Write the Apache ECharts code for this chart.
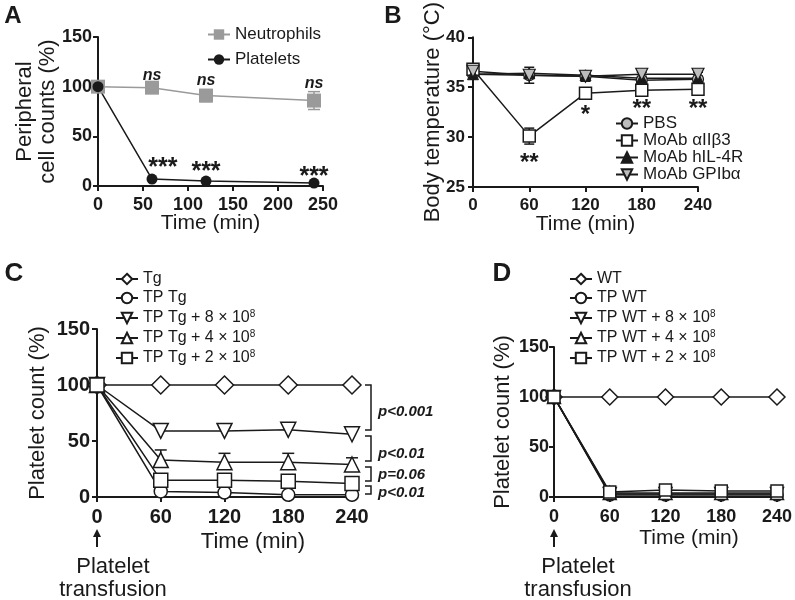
<!DOCTYPE html>
<html><head><meta charset="utf-8">
<script src="https://cdn.jsdelivr.net/npm/echarts@6/dist/echarts.min.js"></script>
<style>html,body{margin:0;padding:0;background:#fff}#c{width:795px;height:600px}</style>
</head><body><div id="c"></div><script>
// ---------- DATA ----------
const A_time = [0, 60, 120, 240];
const A_neutrophils = [100, 99, 91, 86];
const A_neutrophilsErr = [0, 2, 6, 9];
const A_platelets = [100, 7, 5, 3];
const A_nsTime = [60, 120, 240];
const A_nsY = [111, 106, 103];
const A_starTime = [72, 120, 240];
const A_starY = [18, 14, 9];

const B_time = [0, 60, 120, 180, 240];
const B_pbs = [36.3, 36.2, 36.1, 35.7, 35.8];
const B_a2b3 = [36.8, 30.1, 34.4, 34.7, 34.8];
const B_a2b3Err = [0.2, 0.8, 0.3, 0.3, 0.3];
const B_il4r = [36.3, 36.4, 36.2, 35.9, 35.9];
const B_gpib = [36.6, 36.2, 36.1, 36.3, 36.3];
const B_gpibErr = [0, 0.8, 0.5, 0.2, 0.2];
const B_starTime = [60, 120, 180, 240];
const B_starText = ['**', '*', '**', '**'];
const B_starY = [27.4, 32.2, 32.8, 32.8];

const C_time = [0, 60, 120, 180, 240];
const C_tg = [100, 100, 100, 100, 100];
const C_tp = [100, 5, 4, 2, 2];
const C_8 = [100, 59, 59, 60, 56];
const C_8err = [0, 4, 3, 4, 0];
const C_4 = [100, 33, 31, 31, 29];
const C_4err = [0, 9, 8, 8, 6];
const C_2 = [100, 15, 15, 14, 12];
const C_bracketTop = [100, 54.5, 26.8, 9.8];
const C_bracketBot = [59.8, 32.1, 14.3, 2.7];
const C_pText = ['p<0.001', 'p<0.01', 'p=0.06', 'p<0.01'];
const C_pY = [76, 38.4, 19.6, 3.6];

const D_time = [0, 60, 120, 180, 240];
const D_wt = [100, 100, 100, 100, 100];
const D_tp = [100, 2, 2, 2, 2];
const D_8 = [100, 3, 3, 3, 3];
const D_4 = [100, 4, 4, 4, 4];
const D_2 = [100, 5, 7, 6, 6];

const A_names = ['Neutrophils', 'Platelets'];
const B_names = ['PBS', 'MoAb \u03b1II\u03b23', 'MoAb hIL-4R', 'MoAb GPIb\u03b1'];
const C_names = ['Tg', 'TP Tg', 'TP Tg + 8 \u00d7 10^8', 'TP Tg + 4 \u00d7 10^8', 'TP Tg + 2 \u00d7 10^8'];
const D_names = ['WT', 'TP WT', 'TP WT + 8 \u00d7 10^8', 'TP WT + 4 \u00d7 10^8', 'TP WT + 2 \u00d7 10^8'];

// ---------- CHART ----------
const FONT = 'Liberation Sans, Arial, sans-serif';
const INK = '#1a1a1a';
const chart = echarts.init(document.getElementById('c'), null, {renderer: 'canvas'});

function pairs(t, v) { return t.map((x, i) => [x, v[i]]); }

function axisCommon(extra, labelSize, margin, nameSize) {
  return Object.assign({
    nameMoveOverlap: false,
    axisLine: {show: true, onZero: false, lineStyle: {color: INK, width: 2}},
    axisTick: {show: true, length: 5, inside: false, lineStyle: {color: INK, width: 2}},
    axisLabel: {color: INK, fontSize: labelSize, fontWeight: 'bold', fontFamily: FONT, margin: margin},
    splitLine: {show: false},
    nameTextStyle: {color: INK, fontSize: nameSize || 22, fontFamily: FONT, lineHeight: 23}
  }, extra);
}

function lineSeries(name, xi, t, v, opt) {
  return Object.assign({
    type: 'line', name: name, xAxisIndex: xi, yAxisIndex: xi, data: pairs(t, v),
    symbol: 'circle', symbolSize: 12, clip: false, z: 3,
    lineStyle: {color: INK, width: 1.5},
    itemStyle: {color: '#fff', borderColor: INK, borderWidth: 1.5},
    emphasis: {disabled: true}, animation: false
  }, opt);
}

function errSeries(xi, t, v, lo, hi, color, capW) {
  const data = [];
  t.forEach((x, i) => { if ((lo[i] || 0) > 0 || (hi[i] || 0) > 0) data.push([x, v[i], lo[i] || 0, hi[i] || 0]); });
  return {
    type: 'custom', xAxisIndex: xi, yAxisIndex: xi, z: 2, silent: true, animation: false, clip: false,
    encode: {x: 0, y: 1},
    renderItem: function (params, api) {
      const x = api.value(0), y = api.value(1), l = api.value(2), h = api.value(3);
      const top = api.coord([x, y + h]), bot = api.coord([x, y - l]);
      const st = {stroke: color, lineWidth: 1.5};
      const ch = [{type: 'line', shape: {x1: top[0], y1: top[1], x2: bot[0], y2: bot[1]}, style: st}];
      if (h > 0) ch.push({type: 'line', shape: {x1: top[0] - capW / 2, y1: top[1], x2: top[0] + capW / 2, y2: top[1]}, style: st});
      if (l > 0) ch.push({type: 'line', shape: {x1: bot[0] - capW / 2, y1: bot[1], x2: bot[0] + capW / 2, y2: bot[1]}, style: st});
      return {type: 'group', children: ch};
    },
    data: data
  };
}

function textSeries(xi, t, y, texts, font) {
  return {
    type: 'custom', xAxisIndex: xi, yAxisIndex: xi, z: 5, silent: true, animation: false, clip: false,
    encode: {x: 0, y: 1},
    data: t.map((x, i) => [x, y[i], i]),
    renderItem: function (params, api) {
      const p = api.coord([api.value(0), api.value(1)]);
      return {type: 'text', x: p[0], y: p[1], style: {text: texts[api.value(2)], font: font, fill: INK,
        textAlign: 'center', textVerticalAlign: 'middle'}};
    }
  };
}

const bracketSeries = {
  type: 'custom', xAxisIndex: 2, yAxisIndex: 2, z: 4, silent: true, animation: false, clip: false,
  encode: {y: 0},
  data: C_bracketTop.map((v, i) => [v, C_bracketBot[i], C_pY[i], i]),
  renderItem: function (params, api) {
    const t = api.coord([240, api.value(0)]), b = api.coord([240, api.value(1)]), p = api.coord([240, api.value(2)]);
    const x0 = t[0] + 13, x1 = t[0] + 19;
    const st = {stroke: INK, lineWidth: 1.5, fill: null};
    return {type: 'group', children: [
      {type: 'polyline', shape: {points: [[x0, t[1]], [x1, t[1]], [x1, b[1]], [x0, b[1]]]}, style: st},
      {type: 'text', x: x1 + 7, y: p[1], style: {text: C_pText[api.value(3)], fill: INK, font: 'italic bold 15px ' + FONT, textVerticalAlign: 'middle', textAlign: 'left'}}
    ]};
  }
};

const sup = {fontSize: 10, fontFamily: FONT, color: INK, padding: [0, 0, 8, 0]};
function legendFmt(n) { return n.replace('10^8', '10{sup|8}'); }
function legend(names, left, top, fs, gap) {
  return {
    data: names, orient: 'vertical', left: left, top: top, itemWidth: 22, itemHeight: 13, itemGap: gap,
    selectedMode: false, formatter: legendFmt,
    textStyle: {color: INK, fontSize: fs, fontFamily: FONT, rich: {sup: sup}}
  };
}

const series = [
  // A
  errSeries(0, A_time, A_neutrophils, A_neutrophilsErr, A_neutrophilsErr, '#9a9a9a', 12),
  lineSeries(A_names[0], 0, A_time, A_neutrophils, {symbol: 'rect', symbolSize: 14,
    lineStyle: {color: '#9a9a9a', width: 1.5}, itemStyle: {color: '#9a9a9a', borderColor: '#9a9a9a', borderWidth: 0}}),
  lineSeries(A_names[1], 0, A_time, A_platelets, {symbol: 'circle', symbolSize: 11,
    itemStyle: {color: INK, borderColor: INK, borderWidth: 0}}),
  textSeries(0, A_nsTime, A_nsY, ['ns', 'ns', 'ns'], 'italic bold 16px ' + FONT),
  textSeries(0, A_starTime, A_starY, ['***', '***', '***'], 'bold 25px ' + FONT),
  // B
  errSeries(1, B_time, B_a2b3, B_a2b3Err, B_a2b3Err, INK, 10),
  errSeries(1, B_time, B_gpib, B_gpibErr, B_gpibErr, INK, 10),
  lineSeries(B_names[0], 1, B_time, B_pbs, {symbol: 'circle', symbolSize: 11, itemStyle: {color: '#bdbdbd', borderColor: INK, borderWidth: 1.2}}),
  lineSeries(B_names[1], 1, B_time, B_a2b3, {symbol: 'rect', symbolSize: 12}),
  lineSeries(B_names[2], 1, B_time, B_il4r, {symbol: 'triangle', symbolSize: 11, itemStyle: {color: INK, borderColor: INK, borderWidth: 1}}),
  lineSeries(B_names[3], 1, B_time, B_gpib, {symbol: 'triangle', symbolRotate: 180, symbolSize: 12, itemStyle: {color: '#bdbdbd', borderColor: INK, borderWidth: 1.2}}),
  textSeries(1, B_starTime, B_starY, B_starText, 'bold 24px ' + FONT),
  // C
  errSeries(2, C_time, C_8, [0, 0, 0, 0, 0], C_8err, INK, 12),
  errSeries(2, C_time, C_4, [0, 0, 0, 0, 0], C_4err, INK, 12),
  lineSeries(C_names[0], 2, C_time, C_tg, {symbol: 'diamond', symbolSize: [18, 18]}),
  lineSeries(C_names[1], 2, C_time, C_tp, {symbol: 'circle', symbolSize: 13}),
  lineSeries(C_names[2], 2, C_time, C_8, {symbol: 'triangle', symbolRotate: 180, symbolSize: 15}),
  lineSeries(C_names[3], 2, C_time, C_4, {symbol: 'triangle', symbolSize: 15}),
  lineSeries(C_names[4], 2, C_time, C_2, {symbol: 'rect', symbolSize: 14}),
  bracketSeries,
  // D
  lineSeries(D_names[0], 3, D_time, D_wt, {symbol: 'diamond', symbolSize: [16, 16]}),
  lineSeries(D_names[1], 3, D_time, D_tp, {symbol: 'circle', symbolSize: 12}),
  lineSeries(D_names[2], 3, D_time, D_8, {symbol: 'triangle', symbolRotate: 180, symbolSize: 13}),
  lineSeries(D_names[3], 3, D_time, D_4, {symbol: 'triangle', symbolSize: 13}),
  lineSeries(D_names[4], 3, D_time, D_2, {symbol: 'rect', symbolSize: 12})
];

function gtext(x, y, text, font, align) {
  return {type: 'text', x: x, y: y, silent: true,
    style: {text: text, font: font, fill: INK, textAlign: align || 'center', textVerticalAlign: 'middle', lineHeight: 23}};
}
function arrow(x, yTop, yBot) {
  return {type: 'group', silent: true, children: [
    {type: 'line', shape: {x1: x, y1: yTop + 6, x2: x, y2: yBot}, style: {stroke: INK, lineWidth: 2}},
    {type: 'polygon', shape: {points: [[x, yTop], [x - 4, yTop + 8], [x + 4, yTop + 8]]}, style: {fill: INK}}
  ]};
}

const option = {
  backgroundColor: '#fff',
  animation: false,
  grid: [
    {left: 98, top: 37, width: 225, height: 149},
    {left: 473, top: 37, width: 225, height: 150},
    {left: 97, top: 329, width: 255, height: 168},
    {left: 554, top: 347, width: 225, height: 150}
  ],
  xAxis: [
    axisCommon({gridIndex: 0, type: 'value', min: 0, max: 250, interval: 50, name: 'Time (min)', nameLocation: 'middle', nameGap: 26}, 18, 10, 21),
    axisCommon({gridIndex: 1, type: 'value', min: 0, max: 240, interval: 60, name: 'Time (min)', nameLocation: 'middle', nameGap: 26}, 17, 10, 21),
    axisCommon({gridIndex: 2, type: 'value', min: 0, max: 240, interval: 60}, 20, 10),
    axisCommon({gridIndex: 3, type: 'value', min: 0, max: 240, interval: 60}, 18, 11)
  ],
  yAxis: [
    axisCommon({gridIndex: 0, type: 'value', min: 0, max: 150, interval: 50, name: 'Peripheral\ncell counts (%)', nameLocation: 'middle', nameGap: 39}, 18, 6, 22),
    axisCommon({gridIndex: 1, type: 'value', min: 25, max: 40, interval: 5, name: 'Body temperature (\u00b0C)', nameLocation: 'middle', nameGap: 29}, 17, 8, 22),
    axisCommon({gridIndex: 2, type: 'value', min: 0, max: 150, interval: 50, name: 'Platelet count (%)', nameLocation: 'middle', nameGap: 48}, 20, 7, 22),
    axisCommon({gridIndex: 3, type: 'value', min: 0, max: 150, interval: 50, name: 'Platelet count (%)', nameLocation: 'middle', nameGap: 40}, 18, 5, 22)
  ],
  legend: [
    legend(A_names, 202, 21, 17, 8),
    legend(B_names, 610, 110, 17, 0),
    legend(C_names, 110, 266, 16, 3),
    legend(D_names, 564, 266, 16, 3)
  ],
  graphic: [
    gtext(13, 16, 'A', 'bold 24px ' + FONT),
    gtext(393, 16, 'B', 'bold 24px ' + FONT),
    gtext(14, 274, 'C', 'bold 26px ' + FONT),
    gtext(502, 274, 'D', 'bold 26px ' + FONT),
    gtext(253, 542, 'Time (min)', '22px ' + FONT),
    gtext(689, 538, 'Time (min)', '21px ' + FONT),
    arrow(97, 529, 547),
    arrow(554, 529, 547),
    gtext(113, 578, 'Platelet\ntransfusion', '22px ' + FONT),
    gtext(578, 578, 'Platelet\ntransfusion', '22px ' + FONT)
  ],
  series: series
};
chart.setOption(option);
</script></body></html>
